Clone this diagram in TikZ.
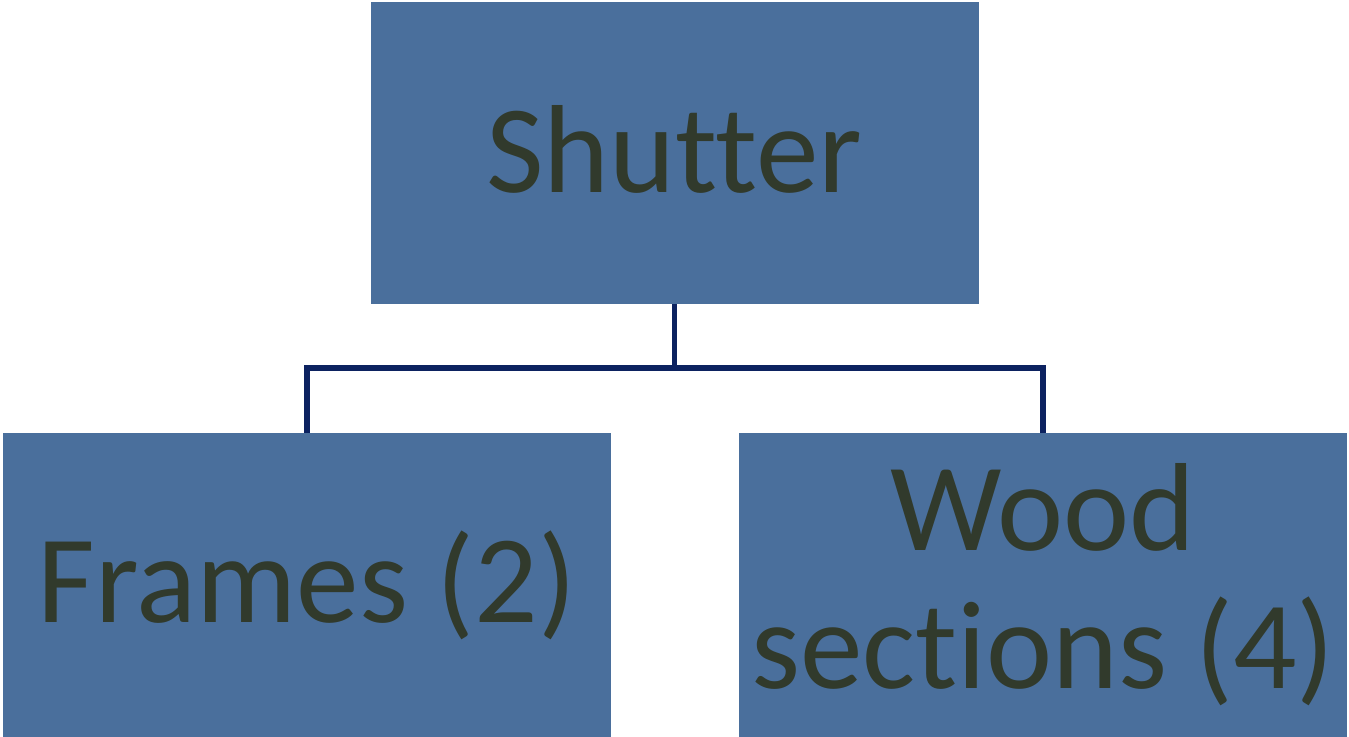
\documentclass[tikz,border=0pt]{standalone}
\usepackage{fontspec}
\setmainfont{Carlito}[Ligatures={NoCommon}]
\usepackage{tikz}
\usetikzlibrary{positioning,calc}

\definecolor{boxblue}{HTML}{4A6F9C}
\definecolor{textgreen}{HTML}{313A2C}
\definecolor{linknavy}{HTML}{0C2260}

\tikzset{
  part/.style={rectangle, fill=boxblue, text=textgreen, align=center,
    minimum width=456pt, minimum height=228pt, inner sep=0pt,
    font=\fontsize{94}{103.5}\selectfont},
  link/.style={draw=linknavy, line width=3.8pt}
}

\begin{document}
\begin{tikzpicture}[x=0.75pt, y=-0.75pt]
			\useasboundingbox (0,0) rectangle (1349,737);
			
			\node[part, minimum height=226.5pt] (shutter) at (674.5,153) {};
			\node[font=\fontsize{94}{103.5}\selectfont, text=textgreen, inner sep=0pt] (shuttertext) at (674.5,149) {Shutter};
			\node[part] (frames) at (307,585) {Frames (2)};
			\node[part] (wood) at (1043,585) {Wood\\sections (4)};
			
			\coordinate (split) at (674.5,368);
			\draw[link] (shutter.south) -- (split) -| (frames.north);
			\draw[link] (split) -| (wood.north);
			
			\end{tikzpicture}
\end{document}
